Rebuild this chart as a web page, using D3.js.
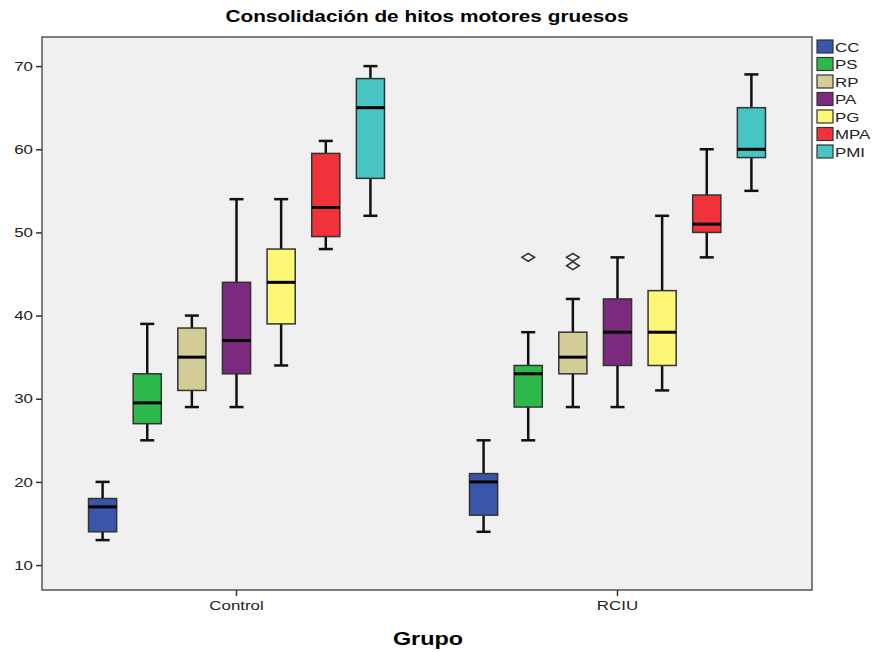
<!DOCTYPE html>
<html>
<head>
<meta charset="utf-8">
<script src="https://cdn.jsdelivr.net/npm/d3@7"></script>
<style>
  body { margin: 0; background: #fff; }
  text { font-family: "Liberation Sans", Arial, sans-serif; transform-box: fill-box; transform: scaleX(1.3); transform-origin: center; }
  .ylab text { transform-origin: right center; }
  .leg text { transform-origin: left center; }
</style>
</head>
<body>
<div id="chart"></div>
<script>
const groups = ["Control", "RCIU"];
const series = ["CC", "PS", "RP", "PA", "PG", "MPA", "PMI"];
const colors = ["#3a56ab", "#2eb84b", "#d4cd98", "#7c2a7f", "#fcf876", "#f1323b", "#48c4c5"];
const yTicks = [10, 20, 30, 40, 50, 60, 70];

// [lowWhisker, q1, median, q3, highWhisker]
const controlStats = [
  [13, 14, 17, 18, 20],
  [25, 27, 29.5, 33, 39],
  [29, 31, 35, 38.5, 40],
  [29, 33, 37, 44, 54],
  [34, 39, 44, 48, 54],
  [48, 49.5, 53, 59.5, 61],
  [52, 56.5, 65, 68.5, 70]
];
const rciuStats = [
  [14, 16, 20, 21, 25],
  [25, 29, 33, 34, 38],
  [29, 33, 35, 38, 42],
  [29, 34, 38, 42, 47],
  [31, 34, 38, 43, 52],
  [47, 50, 51, 54.5, 60],
  [55, 59, 60, 65, 69]
];
const rciuOutliers = [[], [47], [46, 47], [], [], [], []];

const W = 873, H = 652;
const margin = {top: 37, right: 61, bottom: 62, left: 42};
const width = W - margin.left - margin.right;
const height = H - margin.top - margin.bottom;

const svg = d3.select("#chart").append("svg")
  .attr("width", W).attr("height", H);

svg.append("text")
  .attr("x", 427).attr("y", 22)
  .attr("text-anchor", "middle")
  .style("font-weight", "bold").style("font-size", "16px")
  .text("Consolidación de hitos motores gruesos");

const g = svg.append("g").attr("transform", `translate(${margin.left},${margin.top})`);

const y = d3.scaleLinear().domain([7, 73.5]).range([height, 0]);
const x = d3.scaleBand().domain(groups).range([0, width]).paddingInner(0.1365).paddingOuter(0.0788);
const xs = d3.scaleBand().domain(series).range([0, x.bandwidth()]).padding(0.37);

g.append("rect")
  .attr("width", width).attr("height", height)
  .attr("fill", "#f0f0f0").attr("stroke", "#555").attr("stroke-width", 1.5);

// y axis
const ya = g.append("g").attr("class", "ylab").call(d3.axisLeft(y).tickValues(yTicks).tickSize(6).tickPadding(3));
ya.select(".domain").remove();
ya.selectAll("line").attr("stroke", "#333").attr("stroke-width", 1.5);
ya.selectAll("text").style("font-size", "13px").attr("fill", "#222");

// x axis
const xa = g.append("g").attr("transform", `translate(0,${height})`)
  .call(d3.axisBottom(x).tickSize(6).tickPadding(5));
xa.select(".domain").remove();
xa.selectAll("line").attr("stroke", "#333").attr("stroke-width", 1.5);
xa.selectAll("text").style("font-size", "13px").attr("fill", "#222");

svg.append("text")
  .attr("x", 428).attr("y", 645)
  .attr("text-anchor", "middle")
  .style("font-weight", "bold").style("font-size", "18px")
  .text("Grupo");

const allStats = {Control: controlStats, RCIU: rciuStats};
const allOut = {Control: [[], [], [], [], [], [], []], RCIU: rciuOutliers};

groups.forEach(grp => {
  const gg = g.append("g").attr("transform", `translate(${x(grp)},0)`);
  allStats[grp].forEach((s, i) => {
    const cx = xs(series[i]) + xs.bandwidth() / 2;
    const bw = xs.bandwidth();
    const cap = bw * 0.5;
    const b = gg.append("g");
    // whiskers
    b.append("line").attr("x1", cx).attr("x2", cx).attr("y1", y(s[0])).attr("y2", y(s[1]))
      .attr("stroke", "#111").attr("stroke-width", 2.5);
    b.append("line").attr("x1", cx).attr("x2", cx).attr("y1", y(s[3])).attr("y2", y(s[4]))
      .attr("stroke", "#111").attr("stroke-width", 2.5);
    [s[0], s[4]].forEach(v => {
      b.append("line").attr("x1", cx - cap / 2).attr("x2", cx + cap / 2).attr("y1", y(v)).attr("y2", y(v))
        .attr("stroke", "#111").attr("stroke-width", 2.5);
    });
    b.append("rect")
      .attr("x", cx - bw / 2).attr("width", bw)
      .attr("y", y(s[3])).attr("height", y(s[1]) - y(s[3]))
      .attr("fill", colors[i]).attr("stroke", "#333").attr("stroke-width", 1.5);
    b.append("line").attr("x1", cx - bw / 2).attr("x2", cx + bw / 2).attr("y1", y(s[2])).attr("y2", y(s[2]))
      .attr("stroke", "#000").attr("stroke-width", 3);
    allOut[grp][i].forEach(v => {
      b.append("path")
        .attr("d", d3.symbol(d3.symbolDiamond2 || d3.symbolDiamond, 55)())
        .attr("transform", `translate(${cx},${y(v)}) scale(1.35,0.85)`)
        .attr("fill", "none").attr("stroke", "#333").attr("stroke-width", 1.6);
    });
  });
});

// legend
const lg = svg.append("g").attr("class", "leg").attr("transform", "translate(817,40)");
series.forEach((s, i) => {
  const r = lg.append("g").attr("transform", `translate(0,${i * 17.5})`);
  r.append("rect").attr("width", 16).attr("height", 13)
    .attr("fill", colors[i]).attr("stroke", "#333").attr("stroke-width", 1.2);
  r.append("text").attr("x", 18).attr("y", 11.5)
    .style("font-size", "13px").attr("fill", "#222").text(s);
});
</script>
</body>
</html>
